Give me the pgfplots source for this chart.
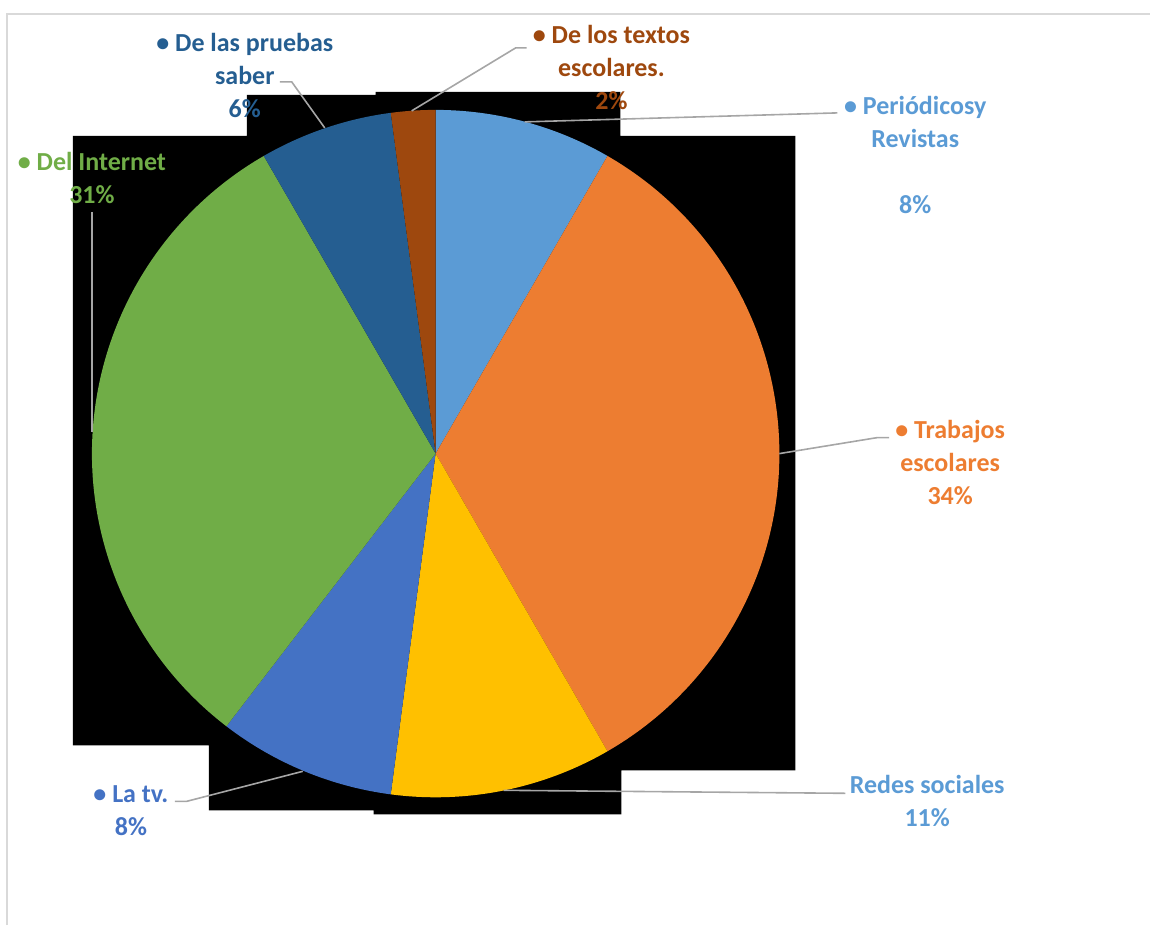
\documentclass[border=0pt]{standalone}
\usepackage{pgfplots}
\pgfplotsset{compat=1.18}
\usepackage{fontspec}
\setmainfont{Carlito}
\definecolor{cPer}{HTML}{5B9BD5}
\definecolor{cTra}{HTML}{ED7D31}
\definecolor{cRed}{HTML}{FFC000}
\definecolor{cTv}{HTML}{4472C4}
\definecolor{cInt}{HTML}{70AD47}
\definecolor{cPru}{HTML}{255E91}
\definecolor{cTex}{HTML}{9E480E}
\definecolor{leader}{HTML}{A6A6A6}
\definecolor{frame}{HTML}{D9D9D9}
\begin{document}
\begin{tikzpicture}[lab/.style={font=\fontsize{13}{16.5}\selectfont\bfseries, align=center, inner sep=0pt}]
\begin{axis}[
  x=0.5pt, y=0.5pt,
  xmin=0, xmax=1151, ymin=0, ymax=926,
  hide axis, scale only axis, clip=false,
]
% chart frame
\addplot[draw=frame, line width=1pt] coordinates {(7,0) (7,912) (1151,912)};
% black background artefact behind the pie
\addplot[fill=black, draw=none] coordinates {
 (73,790) (247,790) (247,831) (376,831) (376,834) (621,834) (621,790) (796,790)
 (796,155) (622,155) (622,111) (374,111) (374,115) (209,115) (209,180) (73,180)} -- cycle;
% pie slices (counts out of 48), clockwise from 90 degrees
\pgfmathsetmacro\cum{90}
\pgfplotsforeachungrouped \v/\c in {4/cPer,16/cTra,5/cRed,4/cTv,15/cInt,3/cPru,1/cTex}{
  \pgfmathsetmacro\d{-\v*360/48}
  \edef\temp{\noexpand\fill[\c] (axis cs:436,472) -- ++(\cum:172pt) arc[start angle=\cum, delta angle=\d, radius=172pt] -- cycle;}
  \temp
  \pgfmathsetmacro\cum{\cum+\d}
}
% leader lines
\addplot[draw=leader, line width=0.8pt] coordinates {(280,844) (292,844) (325,798)};
\addplot[draw=leader, line width=0.8pt] coordinates {(527,878) (516,878) (412,815)};
\addplot[draw=leader, line width=0.8pt] coordinates {(838,813) (525,804)};
\addplot[draw=leader, line width=0.8pt] coordinates {(890,488) (878,488) (780,472)};
\addplot[draw=leader, line width=0.8pt] coordinates {(846,132) (504,135)};
\addplot[draw=leader, line width=0.8pt] coordinates {(175,124) (187,124) (303,154)};
\addplot[draw=leader, line width=0.8pt] coordinates {(92,714) (92,494)};
% labels
\node[lab, text=cPru] at (axis cs:245,850) {• De las pruebas\\saber\\6\%};
\node[lab, text=cTex] at (axis cs:612,858) {• De los textos\\escolares.\\2\%};
\node[lab, text=cPer] at (axis cs:916,771) {• Periódicosy\\Revistas\\[16.5pt]8\%};
\node[lab, text=cTra] at (axis cs:951,463) {• Trabajos\\escolares\\34\%};
\node[lab, text=cPer] at (axis cs:928,124) {Redes sociales\\11\%};
\node[lab, text=cTv] at (axis cs:131,115) {• La tv.\\8\%};
\node[lab, text=cInt] at (axis cs:92,748) {• Del Internet\\31\%};
\path (axis cs:0,0) rectangle (axis cs:1151,926);
\end{axis}
\end{tikzpicture}
\end{document}
